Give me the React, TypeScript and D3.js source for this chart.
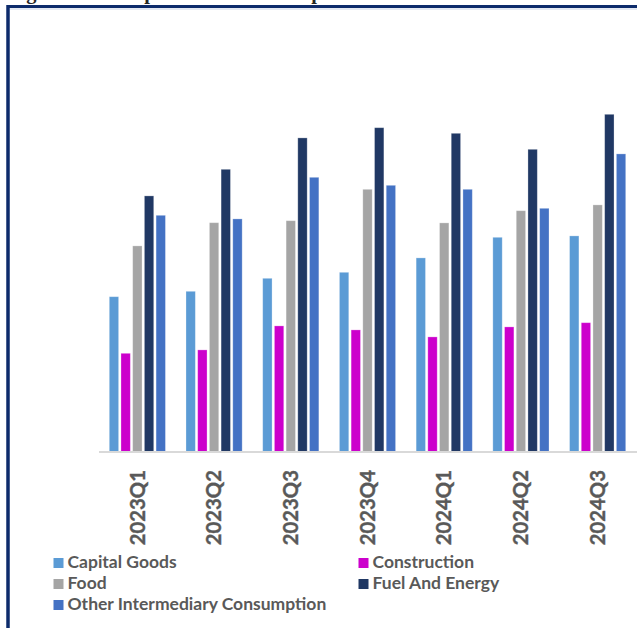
import React from "react";
import * as d3 from "d3";

const quarters = ["2023Q1", "2023Q2", "2023Q3", "2023Q4", "2024Q1", "2024Q2", "2024Q3"];
const seriesNames = ["Capital Goods", "Construction", "Food", "Fuel And Energy", "Other Intermediary Consumption"];
const capitalGoods = [774, 801, 866, 896, 968, 1071, 1078];
const construction = [491, 508, 628, 608, 573, 623, 644];
const food = [1028, 1144, 1154, 1311, 1143, 1204, 1233];
const fuelAndEnergy = [1278, 1411, 1568, 1619, 1591, 1511, 1686];
const otherIntermediary = [1181, 1163, 1371, 1331, 1311, 1216, 1488];
const seriesColors = ["#5b9bd5", "#cc00cc", "#a5a5a5", "#203864", "#4472c4"];

const W = 637;
const H = 628;

export default function App() {
  const seriesValues = [capitalGoods, construction, food, fuelAndEnergy, otherIntermediary];
  const baseline = 451.5;
  const x = d3.scaleBand<string>().domain(quarters).range([99, 636]).paddingInner(0).paddingOuter(0);
  const xs = d3
    .scaleBand<string>()
    .domain(seriesNames)
    .range([0, x.bandwidth()])
    .paddingInner(0.2)
    .paddingOuter(0.878);
  const y = d3.scaleLinear().domain([0, 2000]).range([baseline, baseline - 400]);

  const legendItems = seriesNames.map((name, i) => ({
    name,
    color: seriesColors[i],
    col: i % 2,
    row: Math.floor(i / 2),
  }));

  return (
    <svg
      width={W}
      height={H}
      style={{ position: "absolute", left: 0, top: 0, display: "block", background: "#fff" }}
    >
      <text
        x={8}
        y={-1.5}
        fontFamily="Liberation Serif, serif"
        fontWeight="bold"
        fontSize={20.5}
        fill="#262626"
      >
        Figure 11: Composition of Real Imports
      </text>
      {/* frame */}
      <line x1={8} x2={W + 5} y1={6.5} y2={6.5} stroke="#0d2b6b" strokeWidth={3} />
      <line x1={8} x2={W + 5} y1={9} y2={9} stroke="#c9d3e6" strokeWidth={1} />
      <line x1={8} x2={8} y1={5} y2={H + 5} stroke="#0d2b6b" strokeWidth={3.5} />

      {/* bars */}
      {quarters.map((q, qi) => (
        <g key={q} transform={`translate(${x(q)},0)`}>
          {seriesNames.map((s, si) => {
            const v = seriesValues[si][qi];
            return (
              <rect
                key={s}
                x={xs(s)}
                y={y(v)}
                width={xs.bandwidth()}
                height={baseline - y(v)}
                fill={seriesColors[si]}
                stroke="#ffffff"
                strokeOpacity={0.35}
                strokeWidth={0.8}
              />
            );
          })}
        </g>
      ))}

      {/* axis line */}
      <line x1={99} x2={W} y1={452} y2={452} stroke="#d9d9d9" strokeWidth={2} />

      {/* x labels */}
      {quarters.map((q) => (
        <text
          key={q}
          transform={`translate(${(x(q) as number) + x.bandwidth() / 2 + 7.2},470) rotate(-90)`}
          textAnchor="end"
          fontFamily="Lato, sans-serif"
          fontWeight="bold"
          fontSize={20.3}
          fill="#595959"
          stroke="#595959"
          strokeWidth={0.4}
        >
          {q}
        </text>
      ))}

      {/* legend */}
      {legendItems.map((it) => {
        const lx = it.col === 0 ? 53.5 : 358.5;
        const ly = 558 + it.row * 21;
        return (
          <g key={it.name}>
            <rect x={lx} y={ly} width={10} height={10} fill={it.color} />
            <text
              x={lx + 14}
              y={ly + 10.3}
              fontFamily="Lato, sans-serif"
              fontWeight="bold"
              fontSize={17.5}
              fill="#595959"
            >
              {it.name}
            </text>
          </g>
        );
      })}
    </svg>
  );
}
